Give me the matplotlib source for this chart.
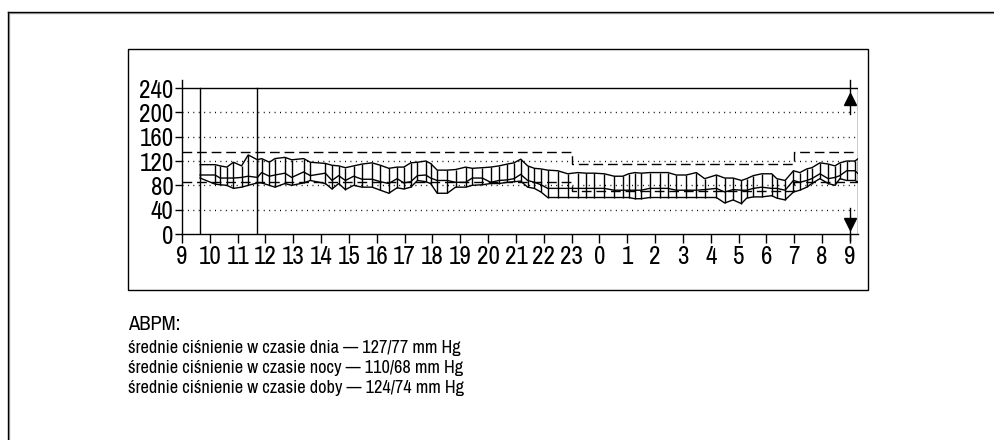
import matplotlib
matplotlib.use('Agg')
import matplotlib.pyplot as plt
from matplotlib import font_manager
from matplotlib.patches import Rectangle
from matplotlib.lines import Line2D

# hours counted from 9:00
t = [0.65, 1.19, 1.37, 1.61, 1.85, 2.14, 2.38, 2.71, 2.86, 3.14, 3.34, 3.70, 3.94,
     4.37, 4.61, 5.15, 5.39, 5.63, 5.87, 6.17, 6.47, 6.83, 7.13, 7.43, 7.73, 7.97,
     8.22, 8.46, 8.76, 8.93, 9.17, 9.53, 9.83, 10.19, 10.43, 10.79, 11.09, 11.39, 11.69, 11.93, 12.17,
     12.42, 12.66, 12.9, 13.14, 13.5, 13.86, 14.22, 14.52, 14.81, 15.17, 15.53, 15.84,
     16.05, 16.27, 16.5, 16.8, 17.16, 17.46, 17.76, 18.12, 18.48, 18.78, 19.2, 19.5, 19.8, 20.1,
     20.29, 20.53, 20.83, 21.19, 21.37, 21.67, 21.97, 22.2, 22.45, 22.63, 22.92, 23.22, 23.46, 23.64, 23.88, 24.18, 24.3]
sys_bp = [114, 114, 112, 110, 118, 112, 130, 122, 124, 118, 124, 126, 122,
          124, 118, 116, 113, 112, 109, 112, 115, 117, 113, 108, 110, 110,
          117, 118, 120, 116, 105, 105, 106, 110, 108, 109, 110, 112, 115, 117, 123,
          112, 108, 107, 105, 104, 99, 101, 100, 100, 99, 95, 95,
          99, 101, 100, 101, 101, 101, 97, 97, 101, 91, 97, 92, 92, 88,
          91, 96, 99, 99, 91, 88, 104, 101, 107, 109, 117, 115, 112, 117, 120, 120, 124]
mid_bp = [97, 97, 92, 92, 92, 93, 95, 93, 101, 95, 97, 100, 93,
          102, 96, 100, 88, 96, 88, 95, 90, 90, 86, 83, 91, 84,
          86, 96, 97, 92, 88, 88, 85, 85, 92, 92, 85, 88, 89, 91, 98,
          88, 85, 81, 75, 75, 75, 75, 75, 75, 75, 72, 72,
          72, 72, 72, 75, 75, 75, 72, 72, 72, 73, 75, 69, 73, 72,
          72, 75, 77, 75, 75, 72, 88, 85, 88, 91, 99, 91, 93, 96, 104, 104, 99]
dia_bp = [92, 82, 81, 80, 75, 77, 80, 84, 84, 80, 77, 83, 80,
          84, 88, 83, 74, 83, 73, 80, 77, 77, 72, 67, 76, 74,
          77, 88, 86, 83, 67, 67, 77, 77, 80, 81, 83, 83, 85, 86, 87,
          77, 75, 69, 60, 60, 60, 60, 60, 60, 60, 60, 60,
          60, 58, 58, 60, 60, 60, 60, 60, 60, 60, 60, 51, 56, 50,
          59, 61, 61, 63, 59, 56, 69, 72, 77, 83, 91, 83, 80, 91, 88, 88, 85]

thr_t = [0, 14, 22, 24.3]
thr_sys = [135, 115, 135, 135]
thr_dia = [85, 70, 85, 85]

marks_t = [0.65, 2.71]
hour_labels = [str((9 + i) % 24) for i in range(25)]
y_ticks = [0, 40, 80, 120, 160, 200, 240]
grid_y = [40, 80, 120, 160, 200]

summary = ['ABPM:',
           'średnie ciśnienie w czasie dnia — 127/77 mm Hg',
           'średnie ciśnienie w czasie nocy — 110/68 mm Hg',
           'średnie ciśnienie w czasie doby — 124/74 mm Hg']

# look for a narrow face, the original uses a condensed grotesque
fams = sorted({f.name for f in font_manager.fontManager.ttflist})
narrow = [n for n in fams if 'Narrow' in n or 'Condensed' in n]
cond = [f for f in font_manager.fontManager.ttflist
        if str(f.stretch) in ('condensed', 'semi-condensed', 'extra-condensed') or
        (isinstance(f.stretch, int) and f.stretch < 500)]
stretch = 'normal'
if narrow:
    family = narrow[0]
    tick_fs, txt_fs = 18, 13.2
elif cond:
    family = cond[0].name
    stretch = 'condensed'
    tick_fs, txt_fs = 16, 12.5
else:
    family = 'Liberation Sans'
    tick_fs, txt_fs = 14, 11.2
plt.rcParams['font.family'] = [family, 'DejaVu Sans']
plt.rcParams['font.stretch'] = stretch

W, H = 994, 440
fig = plt.figure(figsize=(W / 100, H / 100), dpi=100)

# outer frame (only top and left are in view) and inner box
fig.add_artist(Line2D([9 / W, 1], [1 - 13 / H, 1 - 13 / H], color='#aaaaaa', lw=1.0))
fig.add_artist(Line2D([9 / W, 9 / W], [0, 1 - 13 / H], color='#aaaaaa', lw=1.0))
fig.add_artist(Line2D([8 / W, 1], [1 - 12 / H, 1 - 12 / H], color='black', lw=1.0))
fig.add_artist(Line2D([8 / W, 8 / W], [0, 1 - 12 / H], color='black', lw=1.0))
fig.add_artist(Rectangle((128 / W, 1 - 290 / H), 740 / W, 241 / H, fill=False,
                         edgecolor='black', lw=1.0, transform=fig.transFigure))

ax = fig.add_axes([182 / W, (H - 234) / H, 676.3 / W, 154 / H])
ax.set_xlim(0, 24.3)
ax.set_ylim(0, 253.2)
ax.spines['top'].set_visible(False)
ax.spines['right'].set_visible(False)
ax.spines['left'].set_linewidth(1.0)
ax.spines['bottom'].set_linewidth(1.0)

for g in grid_y:
    ax.plot([0, 24.3], [g, g], color='black', lw=1.0, linestyle=(0, (0.7, 3.2)))
ax.plot([0, 24.3], [240, 240], color='black', lw=1.0)
ax.plot([24.3, 24.3], [0, 240], color='black', lw=1.0)

dash = (0, (7, 3.5))
ax.plot(thr_t, thr_sys, drawstyle='steps-post', color='black', lw=1.0, linestyle=dash)
ax.plot(thr_t, thr_dia, drawstyle='steps-post', color='black', lw=1.0, linestyle=dash)

for m in marks_t:
    ax.plot([m, m], [0, 240], color='black', lw=1.0)

ax.vlines(t, dia_bp, sys_bp, color='black', lw=1.0)
ax.plot(t, sys_bp, color='black', lw=1.0)
ax.plot(t, mid_bp, color='black', lw=1.0)
ax.plot(t, dia_bp, color='black', lw=1.0)

# arrows at the last hour
ax.plot([24, 24], [198, 253], color='black', lw=1.0, clip_on=False)
ax.plot([24], [222], marker='^', ms=9, color='black', clip_on=False)
ax.plot([24, 24], [-10, 42], color='black', lw=1.0, clip_on=False)
ax.plot([24], [17], marker='v', ms=9, color='black', clip_on=False)

ax.set_xticks(range(25))
ax.set_xticklabels(hour_labels)
ax.set_yticks(y_ticks)
ax.tick_params(axis='x', length=6.5, width=1.0, pad=1.5, labelsize=tick_fs)
ax.tick_params(axis='y', length=5, width=1.0, pad=1, labelsize=tick_fs)

fig.text(128 / W, 1 - 330 / H, summary[0], fontsize=txt_fs * 1.12, va='baseline')
base = [353, 373, 393]
for i in range(3):
    fig.text(128 / W, 1 - base[i] / H, summary[i + 1], fontsize=txt_fs, va='baseline')

fig.savefig('out.png', dpi=100)
